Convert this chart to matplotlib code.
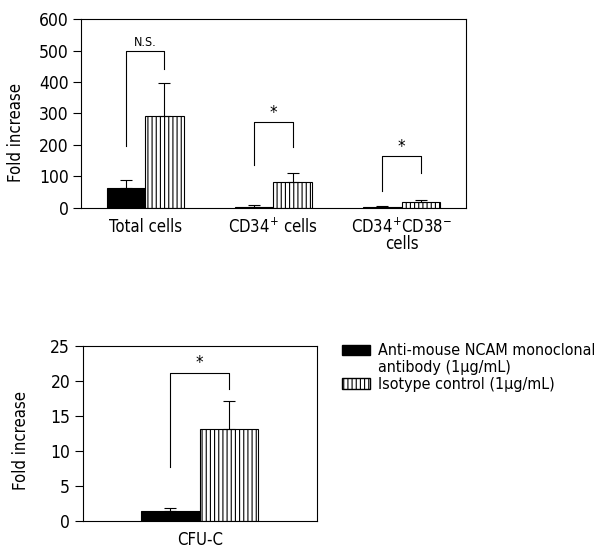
import matplotlib.pyplot as plt
from matplotlib.patches import Patch
import numpy as np

plt.rcParams['font.family'] = ['DejaVu Sans']
plt.rcParams['font.stretch'] = 'condensed'
plt.rcParams['mathtext.fontset'] = 'custom'
plt.rcParams['mathtext.rm'] = 'DejaVu Sans:stretch=condensed'
plt.rcParams['mathtext.it'] = 'DejaVu Sans:stretch=condensed'
plt.rcParams['hatch.linewidth'] = 0.8

# top panel data
groups = ["Total cells", "CD34$^{+}$ cells", "CD34$^{+}$CD38$^{-}$\ncells"]
ncam_mean = [64, 4, 4]
ncam_err = [24, 6, 1]
iso_mean = [291, 83, 20]
iso_err = [105, 28, 5]
# brackets: left foot, right foot, top, label
br_left = [197, 136, 55]
br_right = [442, 194, 110]
br_top = [497, 272, 164]
br_text = ["N.S.", "*", "*"]

# bottom panel data
cfu_label = ["CFU-C"]
cfu_ncam = [1.5]
cfu_ncam_err = [0.4]
cfu_iso = [13.2]
cfu_iso_err = [4.0]
cfu_br = (7.7, 18.9, 21.2, "*")

# legend text (first label wraps onto a second line)
leg_labels = ["Anti-mouse NCAM monoclonal", "antibody (1\u03bcg/mL)", "Isotype control (1\u03bcg/mL)"]

fig = plt.figure(figsize=(6.06, 5.56), dpi=100)


def bars(ax, x, w, m1, e1, m2, e2):
    ax.bar(x - w / 2, m1, w, color='black', edgecolor='black', linewidth=0.8)
    ax.bar(x + w / 2, m2, w, color='white', edgecolor='black', hatch='||||', linewidth=0.8)
    ax.errorbar(x - w / 2, m1, yerr=[np.zeros(len(m1)), e1], fmt='none', ecolor='black',
                elinewidth=0.8, capsize=4, capthick=0.8)
    ax.errorbar(x + w / 2, m2, yerr=[np.zeros(len(m2)), e2], fmt='none', ecolor='black',
                elinewidth=0.8, capsize=4, capthick=0.8)


def bracket(ax, xl, xr, yl, yr, yt, txt, off, fs):
    ax.plot([xl, xl, xr, xr], [yl, yt, yt, yr], color='black', lw=0.8)
    ax.text((xl + xr) / 2, yt + off, txt, ha='center', va='bottom', fontsize=fs)


def style(ax, lx, ly):
    for s in ax.spines.values():
        s.set_linewidth(0.8)
    ax.tick_params(axis='y', direction='out', length=6, width=0.8, pad=3, labelsize=12.5)
    ax.tick_params(axis='x', length=0, pad=7, labelsize=12)
    ax.set_ylabel("Fold increase", fontsize=12)
    ax.yaxis.set_label_coords(lx, ly)


ax1 = fig.add_axes([0.1337, 0.626, 0.635, 0.3398])
x = np.arange(len(groups))
w = 0.3
bars(ax1, x, w, ncam_mean, ncam_err, iso_mean, iso_err)
for i in range(len(groups)):
    bracket(ax1, x[i] - w / 2, x[i] + w / 2, br_left[i], br_right[i], br_top[i], br_text[i],
            8 if br_text[i] == "N.S." else 2, 9 if br_text[i] == "N.S." else 12)
ax1.set_xlim(-0.5, 2.5)
ax1.set_ylim(0, 600)
ax1.set_yticks([0, 100, 200, 300, 400, 500, 600])
ax1.set_xticks(x)
ax1.set_xticklabels(groups, linespacing=0.85)
style(ax1, -0.145, 0.40)

ax2 = fig.add_axes([0.1365, 0.063, 0.3861, 0.3138])
x2 = np.arange(len(cfu_label))
w2 = 0.5
bars(ax2, x2, w2, cfu_ncam, cfu_ncam_err, cfu_iso, cfu_iso_err)
bracket(ax2, -w2 / 2, w2 / 2, cfu_br[0], cfu_br[1], cfu_br[2], cfu_br[3], 0.1, 12)
ax2.set_xlim(-1, 1)
ax2.set_ylim(0, 25)
ax2.set_yticks([0, 5, 10, 15, 20, 25])
ax2.set_xticks(x2)
ax2.set_xticklabels(cfu_label)
style(ax2, -0.224, 0.464)

handles = [Patch(facecolor='black', edgecolor='black'),
           Patch(facecolor='none', edgecolor='none'),
           Patch(facecolor='white', edgecolor='black', hatch='||||')]
fig.legend(handles, leg_labels, loc='upper left', bbox_to_anchor=(0.554, 0.394),
           frameon=False, fontsize=11.5, handlelength=1.75, handleheight=0.6,
           handletextpad=0.5, labelspacing=0.12, borderaxespad=0)

fig.savefig("out.png", dpi=100)
